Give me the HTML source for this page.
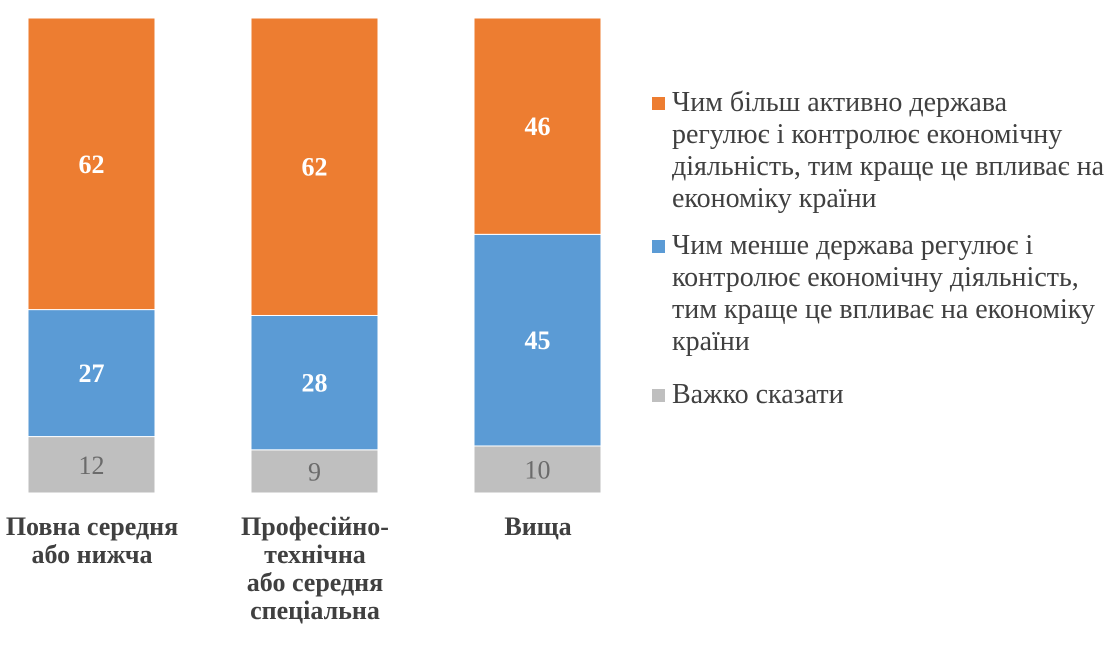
<!DOCTYPE html>
<html><head><meta charset="utf-8"><style>
body{margin:0;background:#fff;width:1116px;height:647px;overflow:hidden;font-family:"Liberation Serif",serif}
.leg{position:absolute;left:672px;font-size:28px;line-height:32px;color:#404040;white-space:nowrap}
.sw{position:absolute;left:652px;width:13px;height:13px}
.cat{position:absolute;width:240px;text-align:center;font-weight:bold;font-size:26px;line-height:28px;color:#404040}
</style></head><body>
<svg id="chart" width="640" height="647" style="position:absolute;left:0;top:0"></svg>
<div class="cat" style="left:-28px;top:513px">Повна середня<br>або нижча</div>
<div class="cat" style="left:195px;top:513px">Професійно-<br>технічна<br>або середня<br>спеціальна</div>
<div class="cat" style="left:418px;top:513px">Вища</div>
<div class="sw" style="top:97px;background:#ED7D31"></div>
<div class="leg" style="top:87px">Чим більш активно держава<br>регулює і контролює економічну<br>діяльність, тим краще це впливає на<br>економіку країни</div>
<div class="sw" style="top:240px;background:#5B9BD5"></div>
<div class="leg" style="top:230px">Чим менше держава регулює і<br>контролює економічну діяльність,<br>тим краще це впливає на економіку<br>країни</div>
<div class="sw" style="top:389px;background:#BFBFBF"></div>
<div class="leg" style="top:379px">Важко сказати</div>
<script>
const categories=["Повна середня або нижча","Професійно-технічна або середня спеціальна","Вища"];
const grayVals=[12,9,10];
const blueVals=[27,28,45];
const orangeVals=[62,62,46];
const svg=document.getElementById('chart');
const NS='http://www.w3.org/2000/svg';
const top0=18,bottom0=493,barW=127;
function xPos(i){return 28+i*223;}
function el(t,a){const e=document.createElementNS(NS,t);for(const k in a)e.setAttribute(k,a[k]);svg.appendChild(e);return e;}
categories.forEach((c,i)=>{
  const tot=grayVals[i]+blueVals[i]+orangeVals[i];
  const sc=v=>v/tot*(bottom0-top0);
  let y=bottom0;
  [[grayVals,'#BFBFBF','#6b6b6b',false,'gray'],[blueVals,'#5B9BD5','#fff',true,'blue'],[orangeVals,'#ED7D31','#fff',true,'orange']].forEach(([arr,col,tc,b,nm])=>{
    const h=sc(arr[i]);y-=h;
    const r=el('rect',{x:xPos(i),y:y,width:barW,height:h,fill:col,stroke:'#fff','stroke-width':1});
    
    
    const t=el('text',{x:xPos(i)+barW/2,y:y+h/2+9,'text-anchor':'middle','font-size':26,'font-weight':b?'bold':'normal',fill:tc,'font-family':'Liberation Serif, serif'});
    t.textContent=arr[i];
    
    
  });
});
</script>
</body></html>
